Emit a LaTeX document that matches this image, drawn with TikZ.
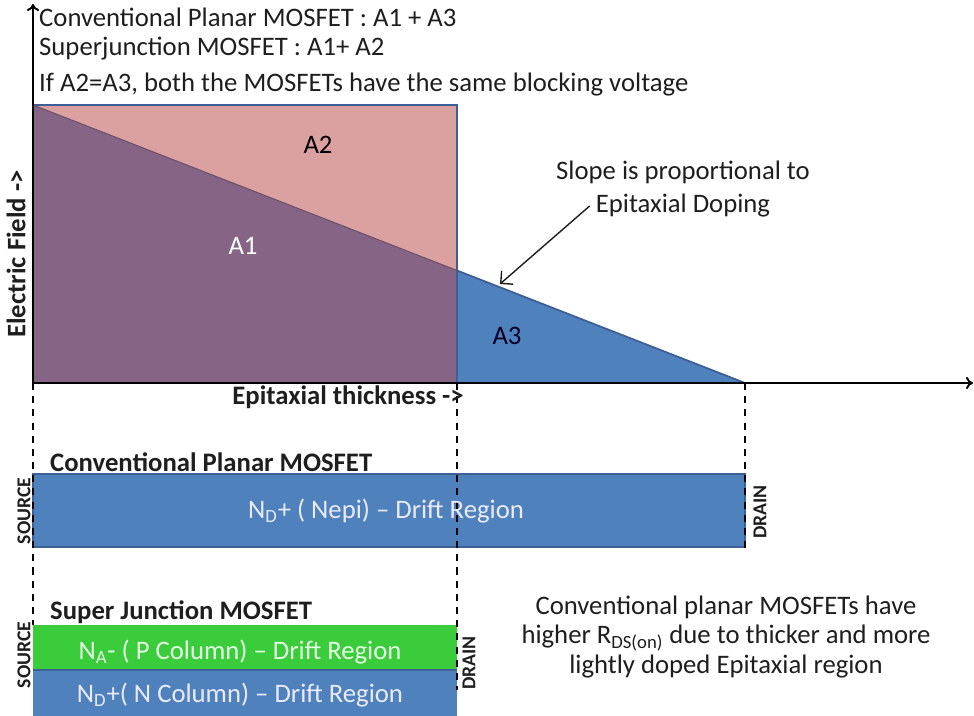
\documentclass[tikz,border=0pt]{standalone}
\usepackage{fontspec}
\setmainfont{Carlito}
\usetikzlibrary{positioning,arrows.meta}
\definecolor{areapink}{RGB}{219,161,160}
\definecolor{areapurple}{RGB}{134,100,133}
\definecolor{fieldblue}{RGB}{79,129,189}
\definecolor{edgeblue}{RGB}{60,95,150}
\definecolor{pcolgreen}{RGB}{58,204,58}
\definecolor{inkgray}{RGB}{30,30,30}

\begin{document}
\begin{tikzpicture}[x=0.02cm,y=-0.02cm,node distance=0.68cm,
    axis/.style={-{To[length=4pt,width=7pt]},line width=1.1pt,black},
    guide/.style={line width=1pt,dash pattern=on 4pt off 3.5pt},
    bar/.style={draw=edgeblue,line width=0.8pt},
    lbl/.style={font=\fontsize{15.2}{17}\selectfont,text=inkgray},
    hdr/.style={font=\fontsize{15.2}{17}\selectfont\bfseries,text=inkgray},
    side/.style={font=\fontsize{11.2}{12}\selectfont\bfseries,rotate=90,text=inkgray}]
    \useasboundingbox (0,0) rectangle (974,716);
    % plot corners
    \coordinate (o) at (33,383);
    \coordinate (yend) at (33,4);
    \coordinate (xend) at (973,383);
    \coordinate (peak) at (33,105);
    \coordinate (sjtop) at (457,105);
    \coordinate (knee) at (457,270.5);
    \coordinate (sj) at (457,383);
    \coordinate (cp) at (745,383);
    % areas
    \fill[areapink] (peak) rectangle (sj);
    \fill[areapurple] (peak) -- (knee) -- (sj) -- (o) -- cycle;
    \fill[fieldblue] (knee) -- (cp) -- (sj) -- cycle;
    \draw[edgeblue,line width=1pt] (o) rectangle (sjtop);
    \draw[edgeblue,line width=1pt] (knee) -- (cp);
    \draw[areapurple!80!black,line width=0.6pt] (peak) -- (knee);
    \node[font=\fontsize{15.2}{17}\selectfont] (a2) at (318,145) {A2};
    \node[font=\fontsize{15.2}{17}\selectfont,text=white] (a1) at (243,246) {A1};
    \node[font=\fontsize{15.2}{17}\selectfont,text=black!85!blue] (a3) at (507,336) {A3};
    % bars
    \fill[fieldblue] (33,474) rectangle (745,547);
    \draw[bar] (33,474) rectangle (745,547);
    \fill[pcolgreen] (33,625) rectangle (457,670);
    \fill[fieldblue] (33,670) rectangle (457,716);
    \draw[edgeblue,line width=0.6pt] (33,670) -- (457,670);
    % guides
    \draw[guide] (o) -- (33,625);
    \draw[guide] (sj) -- (457,690);
    \draw[guide] (cp) -- (745,548);
    % axes
    \draw[axis] (o) -- (yend);
    \draw[axis] (o) -- (xend);
    % texts
    \node[lbl,anchor=west] (t1) at (33,17) {Conventional Planar MOSFET : A1 + A3};
    \node[lbl,anchor=west] (t2) at (33,49) {Superjunction MOSFET : A1+ A2};
    \node[lbl,anchor=west] (t3) at (33,85) {If A2=A3, both the MOSFETs have the same blocking voltage};
    \node[hdr,rotate=90] (yl) at (16,254) {Electric Field ->};
    \node[hdr] (xl) at (348,397) {Epitaxial thickness ->};
    \node[lbl] (slope1) at (683,172) {Slope is proportional to};
    \node[lbl,on grid,below=of slope1] (slope2) {Epitaxial Doping};
    \coordinate (slopehit) at (500,284);
    \node[hdr,anchor=west] (cph) at (44,462) {Conventional Planar MOSFET};
    \node[font=\fontsize{15.2}{17}\selectfont,text=white!92!blue] (cpb) at (386,511) {N\textsubscript{D}+ ( Nepi) -- Drift Region};
    \node[side] (src1) at (24,511) {SOURCE};
    \node[side] (drn1) at (760,512) {DRAIN};
    \node[hdr,anchor=west] (sjh) at (44,612) {Super Junction MOSFET};
    \node[font=\fontsize{15.2}{17}\selectfont,text=white!90!green] (pcol) at (240,652) {N\textsubscript{A}- ( P Column) -- Drift Region};
    \node[font=\fontsize{15.2}{17}\selectfont,text=white!92!blue] (ncol) at (240,695) {N\textsubscript{D}+( N Column) -- Drift Region};
    \node[side] (src2) at (24,655) {SOURCE};
    \node[side] (drn2) at (469,663) {DRAIN};
    \node[lbl,align=center] (note) at (726,637) {Conventional planar MOSFETs have\\higher R\textsubscript{DS(on)} due to thicker and more\\lightly doped Epitaxial region};
    \draw[-{Straight Barb[length=5pt]},line width=0.8pt,inkgray] (slope2.west) -- (slopehit);
\end{tikzpicture}
\end{document}
